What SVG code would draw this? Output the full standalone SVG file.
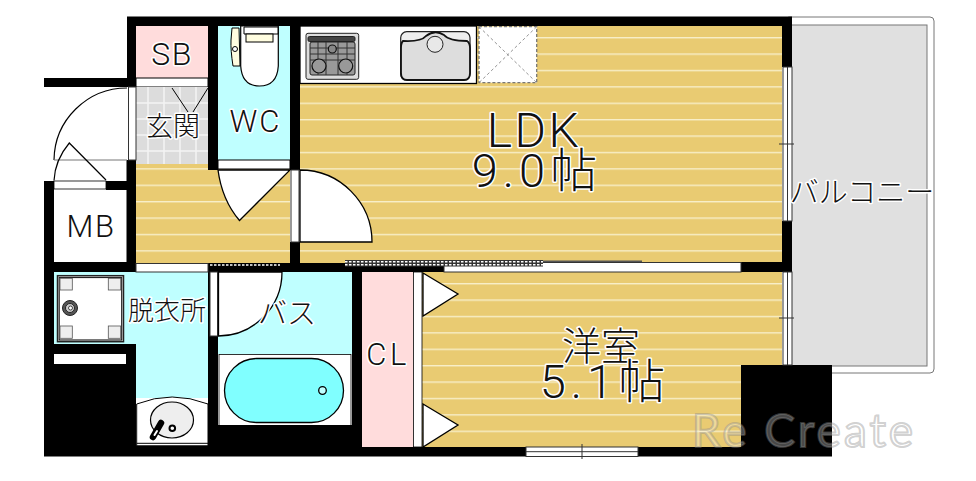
<svg xmlns="http://www.w3.org/2000/svg" width="976" height="481" viewBox="0 0 976 481">
<style>
.t{font-family:Roboto,"Noto Sans CJK JP",sans-serif;font-weight:300;fill:#111;stroke:#fff;stroke-width:3;paint-order:stroke;stroke-linejoin:round;text-anchor:middle}
.j{font-family:"Noto Sans CJK JP",sans-serif;font-weight:300}
.k{fill:#000}
.w{fill:#fff}
.l{fill:#fff;stroke:#000;stroke-width:1.3}
.win{fill:#fff;stroke:#333;stroke-width:1}
.tile{stroke:#f4f4f4;stroke-width:1.5;fill:none}
.hatch{stroke:#fff;stroke-width:1.5;stroke-dasharray:2.5 1.5;fill:none}
</style>
<defs>
<pattern id="floor" patternUnits="userSpaceOnUse" x="0" y="37" width="20" height="16.4">
<rect width="20" height="16.4" fill="#e9cb72"/>
<rect y="0" width="20" height="1.4" fill="#f8eec8"/>
</pattern>
</defs>
<g id="balcony">
<rect x="785" y="17" width="149" height="356" rx="4" fill="#fff" stroke="#777" stroke-width="1"/>
<rect x="785" y="25" width="142" height="341" fill="#e0e0e0" stroke="#777" stroke-width="1"/>
</g>
<g id="floors">
<rect x="300" y="26" width="482" height="237" fill="url(#floor)"/>
<rect x="136" y="164" width="154" height="99" fill="url(#floor)"/>
<rect x="422" y="272" width="360" height="175" fill="url(#floor)"/>
</g>
<g id="sb"><rect x="136" y="26" width="72" height="52" fill="#ffdcdc"/><rect x="136" y="78" width="72" height="9" fill="#fff" stroke="#000" stroke-width="1"/></g>
<g id="genkan">
<rect x="136" y="87" width="72" height="77" fill="#dcdcdc"/>
<path class="tile" d="M148 87V164M164 87V164M180 87V164M196 87V164M136 103H208M136 119H208M136 135H208M136 151H208"/>
<path d="M172 88L188 112M208 88L193 112" stroke="#000" stroke-width="1" fill="none"/>
</g>
<g id="wc">
<rect x="218" y="26" width="72" height="134" fill="#bfffff"/>
<rect x="218" y="160" width="72" height="9" fill="#fff" stroke="#000" stroke-width="1"/>
<path d="M240.700 26V66Q242 86 259.500 86Q277 86 278.300 66V26Z" fill="#fff" stroke="#000" stroke-width="1.200"/>
<path d="M244 27H278V34H244Z" fill="#fff" stroke="#000" stroke-width="1"/>
<rect x="246" y="34" width="27" height="8" fill="#fffde0" stroke="#000" stroke-width="1"/>
<path d="M232 28H239L240 66H233Q230.500 50 231 40Z" fill="#fffde0" stroke="#000" stroke-width="1"/>
<circle cx="235" cy="49" r="2.500" fill="#fff" stroke="#000" stroke-width="1"/>
</g>
<g id="kitchen">
<rect class="l" x="300" y="26" width="176.500" height="57.500" stroke-width="1.200"/>
<rect x="306" y="33.300" width="52.700" height="46" rx="2" fill="#ddd" stroke="#222" stroke-width="1"/>
<rect x="308" y="36.500" width="47" height="5" rx="1.500" fill="#444" stroke="#222" stroke-width="1"/>
<rect x="310" y="42" width="45" height="33" rx="2" fill="#999" stroke="#222" stroke-width="1"/>
<path d="M310 48H355M310 54H355M310 60H355M318 42V75M326 42V75M338 42V75M347 42V75" stroke="#333" stroke-width="1" fill="none"/>
<circle cx="319" cy="66" r="7" fill="#999" stroke="#111" stroke-width="1.200"/>
<circle cx="345.700" cy="66" r="7" fill="#999" stroke="#111" stroke-width="1.200"/>
<circle cx="332.300" cy="49" r="4" fill="#888" stroke="#111" stroke-width="1.200"/>
<rect x="400.700" y="31.700" width="69.300" height="48.300" rx="6" fill="#eee" stroke="#222" stroke-width="1.200"/>
<path d="M403 41Q421 42 426 36Q435 29 444 35Q449 41 467 41Q470 43 470 48V73Q470 80 464 80H407Q401 80 401 73V48Q401 43 403 41Z" fill="#ddd" stroke="#111" stroke-width="1.800"/>
<circle cx="435" cy="44.300" r="8" fill="#e8e8e8" stroke="#222" stroke-width="1"/>
<rect x="479" y="26.700" width="57.700" height="56" fill="#fff" stroke="#777" stroke-width="1.300" stroke-dasharray="3 2"/>
<path d="M479 26.700L536.700 82.700M536.700 26.700L479 82.700" stroke="#888" stroke-width="0.900" stroke-dasharray="3 2.500"/>
</g>
<g id="mb"><rect class="w" x="54" y="189" width="72" height="73"/><rect x="54" y="181" width="52" height="8" fill="#fff" stroke="#000" stroke-width="0.800"/></g>
<g id="laundry">
<path d="M54 272H208V398H136V344H54Z" fill="#bfffff"/>
<rect x="57.500" y="275.700" width="66" height="66" fill="#fff" stroke="#222" stroke-width="1.500"/>
<rect x="59.200" y="277.500" width="62.500" height="62.500" fill="#fff" stroke="#222" stroke-width="1.200"/>
<g fill="#eee" stroke="#555" stroke-width="0.800"><rect x="60" y="278.300" width="12.300" height="11.700"/><rect x="108.300" y="278.300" width="12.400" height="11.700"/><rect x="60" y="326" width="12.300" height="12.300"/><rect x="108.300" y="326" width="12.400" height="12.300"/></g>
<circle cx="70" cy="308" r="7.500" fill="#555" stroke="#222" stroke-width="1"/>
<circle cx="70" cy="308" r="4.500" fill="#ccc" stroke="#222" stroke-width="1"/>
<circle cx="70.500" cy="308" r="2" fill="#fff" stroke="#222" stroke-width="0.800"/>
<path d="M136.700 404Q172 390 208 404V446H136.700Z" fill="#fff" stroke="#000" stroke-width="1"/>
<path d="M136.700 443.300H208" stroke="#000" stroke-width="1"/>
<ellipse cx="172" cy="420" rx="21.500" ry="18" fill="#eee" stroke="#000" stroke-width="1.200"/>
<circle cx="172.300" cy="428.300" r="2.800" fill="#fff" stroke="#000" stroke-width="2"/>
<path d="M161 423L153 437" stroke="#000" stroke-width="6.500" stroke-linecap="round"/>
<path d="M157 431L154.500 435" stroke="#fff" stroke-width="2" stroke-linecap="round"/>
</g>
<g id="bath">
<rect x="218" y="272" width="134" height="82" fill="#bfffff"/>
<rect x="219" y="354.500" width="132" height="71" fill="#fff" stroke="#000" stroke-width="0.800"/>
<rect x="224.500" y="358.500" width="119" height="64" rx="32" fill="#80ffff" stroke="#000" stroke-width="1.300"/>
<circle cx="322.500" cy="390.500" r="3.800" fill="#bfffff" stroke="#000" stroke-width="1.300"/>
</g>
<g id="closet">
<rect x="362" y="272" width="51" height="175" fill="#ffdcdc"/>
<rect x="413.500" y="272" width="8.500" height="175" fill="#fff" stroke="#000" stroke-width="0.800"/>
</g>
<g id="walls">
<path class="k" d="M127 16.500H792V26H300V170H290V26H218V170H208V26H136V78H127Z"/>
<rect class="k" x="44" y="78" width="92" height="9"/>
<rect class="k" x="126.500" y="160" width="9.500" height="110"/>
<rect class="k" x="106" y="181" width="22" height="9"/>
<rect class="k" x="44" y="181" width="10" height="275"/>
<rect class="k" x="44" y="262" width="92" height="10"/>
<path class="k" d="M44 344H136V456H44Z"/>
<rect class="w" x="54" y="354" width="72" height="10"/>
<rect class="k" x="44" y="445.500" width="318" height="11"/>
<rect class="k" x="218" y="425" width="134" height="31"/>
<rect class="k" x="208" y="272" width="10" height="184"/>
<rect class="k" x="352" y="272" width="10" height="184"/>
<rect class="k" x="290" y="242" width="10" height="30"/>
<rect class="k" x="208" y="263" width="236" height="9"/>
<rect class="k" x="362" y="447" width="379" height="9.500"/>
<rect class="k" x="741" y="262" width="51" height="10"/>
<rect class="k" x="782" y="26" width="10" height="41"/>
<rect class="k" x="782" y="221" width="10" height="41"/>
<rect class="k" x="741" y="365" width="91" height="91.500"/>
<rect class="win" x="128.500" y="87" width="7.500" height="73" stroke-width="0.600"/>
<rect class="win" x="136" y="263.500" width="72" height="8.500" stroke="#888"/>
<rect class="win" x="210" y="272" width="7.500" height="64" stroke-width="0.600"/>
<rect class="win" x="291" y="170" width="8" height="72" stroke-width="0.600"/>
<rect class="win" x="444" y="262.500" width="297" height="9.500"/>
<path class="hatch" d="M210 265H280"/>
<rect x="345" y="260" width="198" height="6.500" fill="#333"/>
<path class="hatch" d="M345 261.800H543M345 264.800H543"/>
<rect x="543" y="260.500" width="99" height="1.500" fill="#555"/>
</g>
<g id="windows">
<rect class="win" x="783" y="67" width="9" height="154"/>
<path d="M787.500 67V221M779 144H794" stroke="#333" stroke-width="1"/>
<rect class="win" x="783" y="272" width="9" height="93"/>
<path d="M787.500 272V365M779 318H794" stroke="#333" stroke-width="1"/>
<rect class="win" x="526" y="447" width="112" height="9.500"/>
<path d="M526 451.700H638M582 444V459" stroke="#333" stroke-width="1"/>
</g>
<g id="doors">
<path d="M127 88A73 73 0 0 0 54 160" fill="none" stroke="#000" stroke-width="1.200"/>
<path d="M54 160H127" stroke="#777" stroke-width="1"/>
<path d="M54 180.500Q55 160 69.300 143L106 180" fill="none" stroke="#000" stroke-width="1.200"/>
<path d="M218 170Q222 200 239.500 220.500L290 170Z" class="l"/>
<path d="M300 170A72 72 0 0 1 372 242H300Z" class="l"/>
<path d="M218.500 272H282A64 64 0 0 1 218.500 336Z" class="l"/>
<path d="M423 273L458 294L423 316Z" class="l"/>
<path d="M423 404L458 425L423 447Z" class="l"/>
</g>
<g id="labels">
<text class="t" x="172" y="65" font-size="32" letter-spacing="1.500">SB</text>
<text class="t" x="255.500" y="131.500" font-size="31" letter-spacing="2">WC</text>
<text class="t" x="91" y="236.500" font-size="31" letter-spacing="1.500">MB</text>
<text class="t j" x="173" y="136" font-size="27">玄関</text>
<text class="t" x="534" y="147" font-size="48" letter-spacing="2.500">LDK</text>
<text class="t" x="537" y="187" font-size="47" letter-spacing="5">9.0帖</text>
<text class="t j" x="601" y="360" font-size="39">洋室</text>
<text class="t" x="605" y="398" font-size="47" letter-spacing="5">5.1帖</text>
<text class="t" x="388" y="365" font-size="31" letter-spacing="3.500">CL</text>
<text class="t j" x="167" y="320" font-size="26">脱衣所</text>
<text class="t j" x="287" y="324" font-size="29">バス</text>
<text class="t j" x="862" y="203" font-size="29">バルコニー</text>
</g>
<text x="804" y="447" font-family="Lato,'Liberation Sans',sans-serif" font-size="46" letter-spacing="3" text-anchor="middle" fill="#fff" fill-opacity="0.3" stroke="#888" stroke-opacity="0.4" stroke-width="2">Re Create</text>
</svg>
